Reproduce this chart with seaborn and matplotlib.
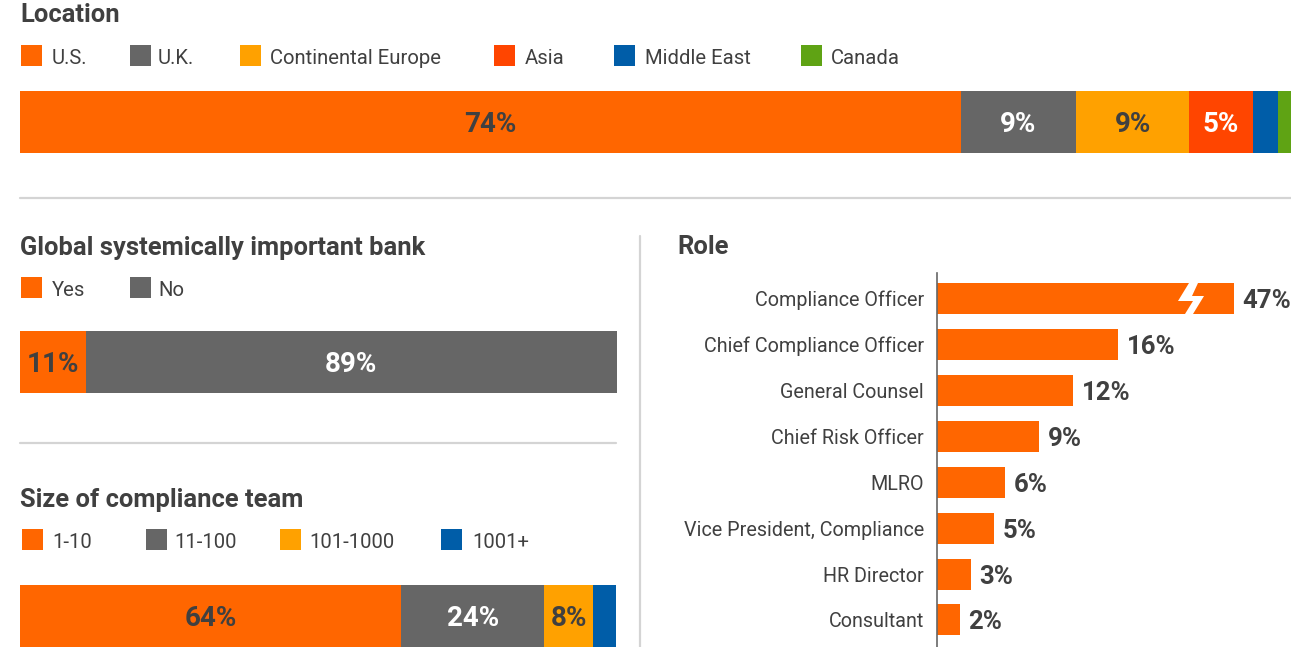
import matplotlib
matplotlib.use("Agg")
import matplotlib.pyplot as plt
import pandas as pd
import seaborn as sns
from matplotlib.patches import Polygon, Rectangle

location_names = ["U.S.", "U.K.", "Continental Europe", "Asia", "Middle East", "Canada"]
location_values = [74, 9.1, 8.9, 5, 2, 1]
location_colors = ["#FF6600", "#666666", "#FFA100", "#FF4500", "#005DA8", "#5FA314"]

gsib_names = ["Yes", "No"]
gsib_values = [11, 89]
gsib_colors = ["#FF6600", "#666666"]

team_names = ["1-10", "11-100", "101-1000", "1001+"]
team_values = [64, 24, 8.2, 3.8]
team_colors = ["#FF6600", "#666666", "#FFA100", "#005DA8"]

role_names = ["Compliance Officer", "Chief Compliance Officer", "General Counsel",
              "Chief Risk Officer", "MLRO", "Vice President, Compliance",
              "HR Director", "Consultant"]
role_values = [47, 16, 12, 9, 6, 5, 3, 2]

# the first bar is cut short in the original, the bolt marks the break
BREAK_AT = 26.2

W, H = 1291, 647
DARK = "#404040"
RULE = "#D4D4D4"

sns.set_theme(style="white")
plt.rcParams["font.family"] = ["Roboto", "DejaVu Sans"]
fig = plt.figure(figsize=(W / 100, H / 100), dpi=100)

# overlay in pixel coordinates for titles, legends and rules
page = fig.add_axes([0, 0, 1, 1], zorder=5)
page.set_xlim(0, W)
page.set_ylim(H, 0)
page.axis("off")


def px_axes(x0, y0, x1, y1):
    return fig.add_axes([x0 / W, 1 - y1 / H, (x1 - x0) / W, (y1 - y0) / H])


def stacked(box, values, colors):
    ax = px_axes(*box)
    df = pd.DataFrame({"end": pd.Series(values).cumsum(), "row": "all"})
    # largest total first so each shorter bar sits on top of the last
    for i in range(len(values) - 1, -1, -1):
        sns.barplot(data=df.iloc[[i]], x="end", y="row", color=colors[i],
                    saturation=1, width=1, linewidth=0, ax=ax)
    ax.set_xlim(0, sum(values))
    ax.set_ylim(0.5, -0.5)
    ax.axis("off")
    start = 0
    for v, c in zip(values, colors):
        if v >= 5:
            tc = "white" if c in ("#666666", "#FF4500") else DARK
            ax.text(start + v / 2, 0, f"{round(v)}%", ha="center", va="center_baseline",
                    color=tc, fontsize=20, fontweight="bold")
        start += v
    return ax


def legend(names, colors, y, box_x, text_x):
    for name, c, bx, tx in zip(names, colors, box_x, text_x):
        page.add_patch(Rectangle((bx, y), 21, 21, color=c, lw=0))
        page.text(tx, y + 11, name, ha="left", va="center_baseline",
                  color=DARK, fontsize=14.6)


def title(x, y, s):
    page.text(x, y, s, ha="left", va="center_baseline", color=DARK,
              fontsize=18.4, fontweight="bold")


stacked((20, 91, 1291, 153), location_values, location_colors)
stacked((20, 331, 617, 393), gsib_values, gsib_colors)
stacked((20, 585, 616, 647), team_values, team_colors)

title(20, 13, "Location")
legend(location_names, location_colors, 45,
       [21, 130, 240, 494, 614, 801], [52, 158, 270, 525, 645, 831])
title(20, 245, "Global systemically important bank")
legend(gsib_names, gsib_colors, 277, [21, 130], [52, 158])
title(20, 498, "Size of compliance team")
legend(team_names, team_colors, 529, [22, 146, 280, 441], [52, 174, 309, 472])
title(677, 244, "Role")

page.plot([20, 1291], [198, 198], color=RULE, lw=1.6)
page.plot([20, 616], [443, 443], color=RULE, lw=1.6)
page.plot([640, 640], [236, 647], color=RULE, lw=1.6)

# role panel
ax = px_axes(937, 273, 1291, 647)
role_df = pd.DataFrame({"role": role_names, "value": role_values})
role_df["shown"] = role_df["value"].clip(upper=BREAK_AT)
sns.barplot(data=role_df, x="shown", y="role", color="#FF6600", saturation=1,
            width=0.676, linewidth=0, ax=ax)
ax.set_xlim(0, 354 / 11.33)
ax.set_ylim(7.59, -0.56)
ax.set(xlabel="", ylabel="", xticks=[])
ax.tick_params(axis="y", length=0, pad=9.4, labelsize=14.2, labelcolor=DARK)
sns.despine(ax=ax, top=True, right=True, bottom=True)
ax.spines["left"].set_color("#666666")
ax.spines["left"].set_linewidth(1.2)
ax.patch.set_alpha(0)
labels = ax.bar_label(ax.containers[0], labels=[f"{v}%" for v in role_values], padding=6.2,
                      color=DARK, fontsize=18.5, fontweight="bold")
for t in labels:
    t.set_verticalalignment("center_baseline")

page.add_patch(Polygon([(1189, 283), (1198, 283), (1192, 296), (1204, 296),
                        (1193, 314), (1185, 314), (1193, 301), (1178, 301)],
                       closed=True, color="white", lw=0))

fig.savefig("out.png", dpi=100, facecolor="white")
